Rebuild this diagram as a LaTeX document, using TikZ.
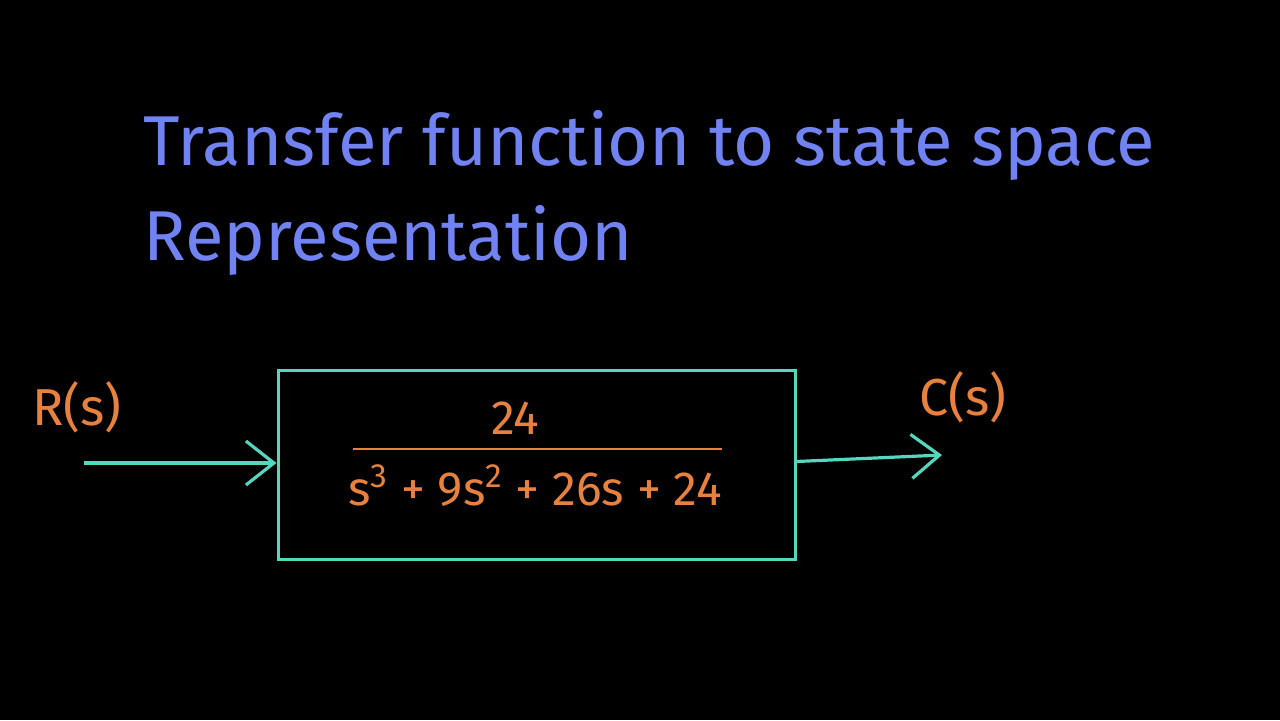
\documentclass[tikz,border=0pt]{standalone}
\usepackage{fontspec}
\setmainfont{Fira Sans}
\usetikzlibrary{arrows.meta,positioning}
\definecolor{titleblue}{HTML}{7182F2}
\definecolor{wireteal}{HTML}{55D6BE}
\definecolor{inkorange}{HTML}{E8813E}
\tikzset{
    heading/.style={text=titleblue,font=\fontsize{35.3}{42}\selectfont,anchor=base west,inner sep=0pt},
    block/.style={draw=wireteal,line width=1.5pt,minimum width=258.5pt,minimum height=94.5pt},
    signal/.style={text=inkorange,font=\fontsize{26}{31}\selectfont,inner sep=0pt},
    term/.style={text=inkorange,font=\fontsize{24}{29}\selectfont,inner sep=0pt},
    bar/.style={draw=inkorange,line width=1.2pt},
    pre/.style={-{Straight Barb[length=14pt,width=22pt,line width=1.6pt]},wireteal,line width=1.6pt}
}

\begin{document}
\begin{tikzpicture}[x=0.5pt,y=-0.5pt]

                \fill[black] (0,0) rectangle (1280,720);
                \useasboundingbox (0,0) rectangle (1280,720);

                \node[heading] (title 1) at (143,165) {Transfer function to state space};
                \node[heading] (title 2) at (143,260) {Representation};

                \node[block]  (plant) at (536.5,464.5)                                {};
                \node[term]   (num)   at (515,418)                                    {24};
                \node[term]   (den)   at (535,486)
                    {s\textsuperscript{3}\ +\ 9s\textsuperscript{2}\ +\ 26s\ +\ 24};
                \draw[bar] (353,449) -- (722,449);

                \node[signal] (r label) at (77,407)                                   {R(s)};
                \node[signal] (c label) at (963,397)                                  {C(s)};

                \coordinate (in)  at (84,463);
                \coordinate (out) at (942,455);
                \draw[pre] (in) -- (in -| plant.west);
                \draw[pre] ([yshift=1.5pt]plant.east) -- (out);

            \end{tikzpicture}
\end{document}
